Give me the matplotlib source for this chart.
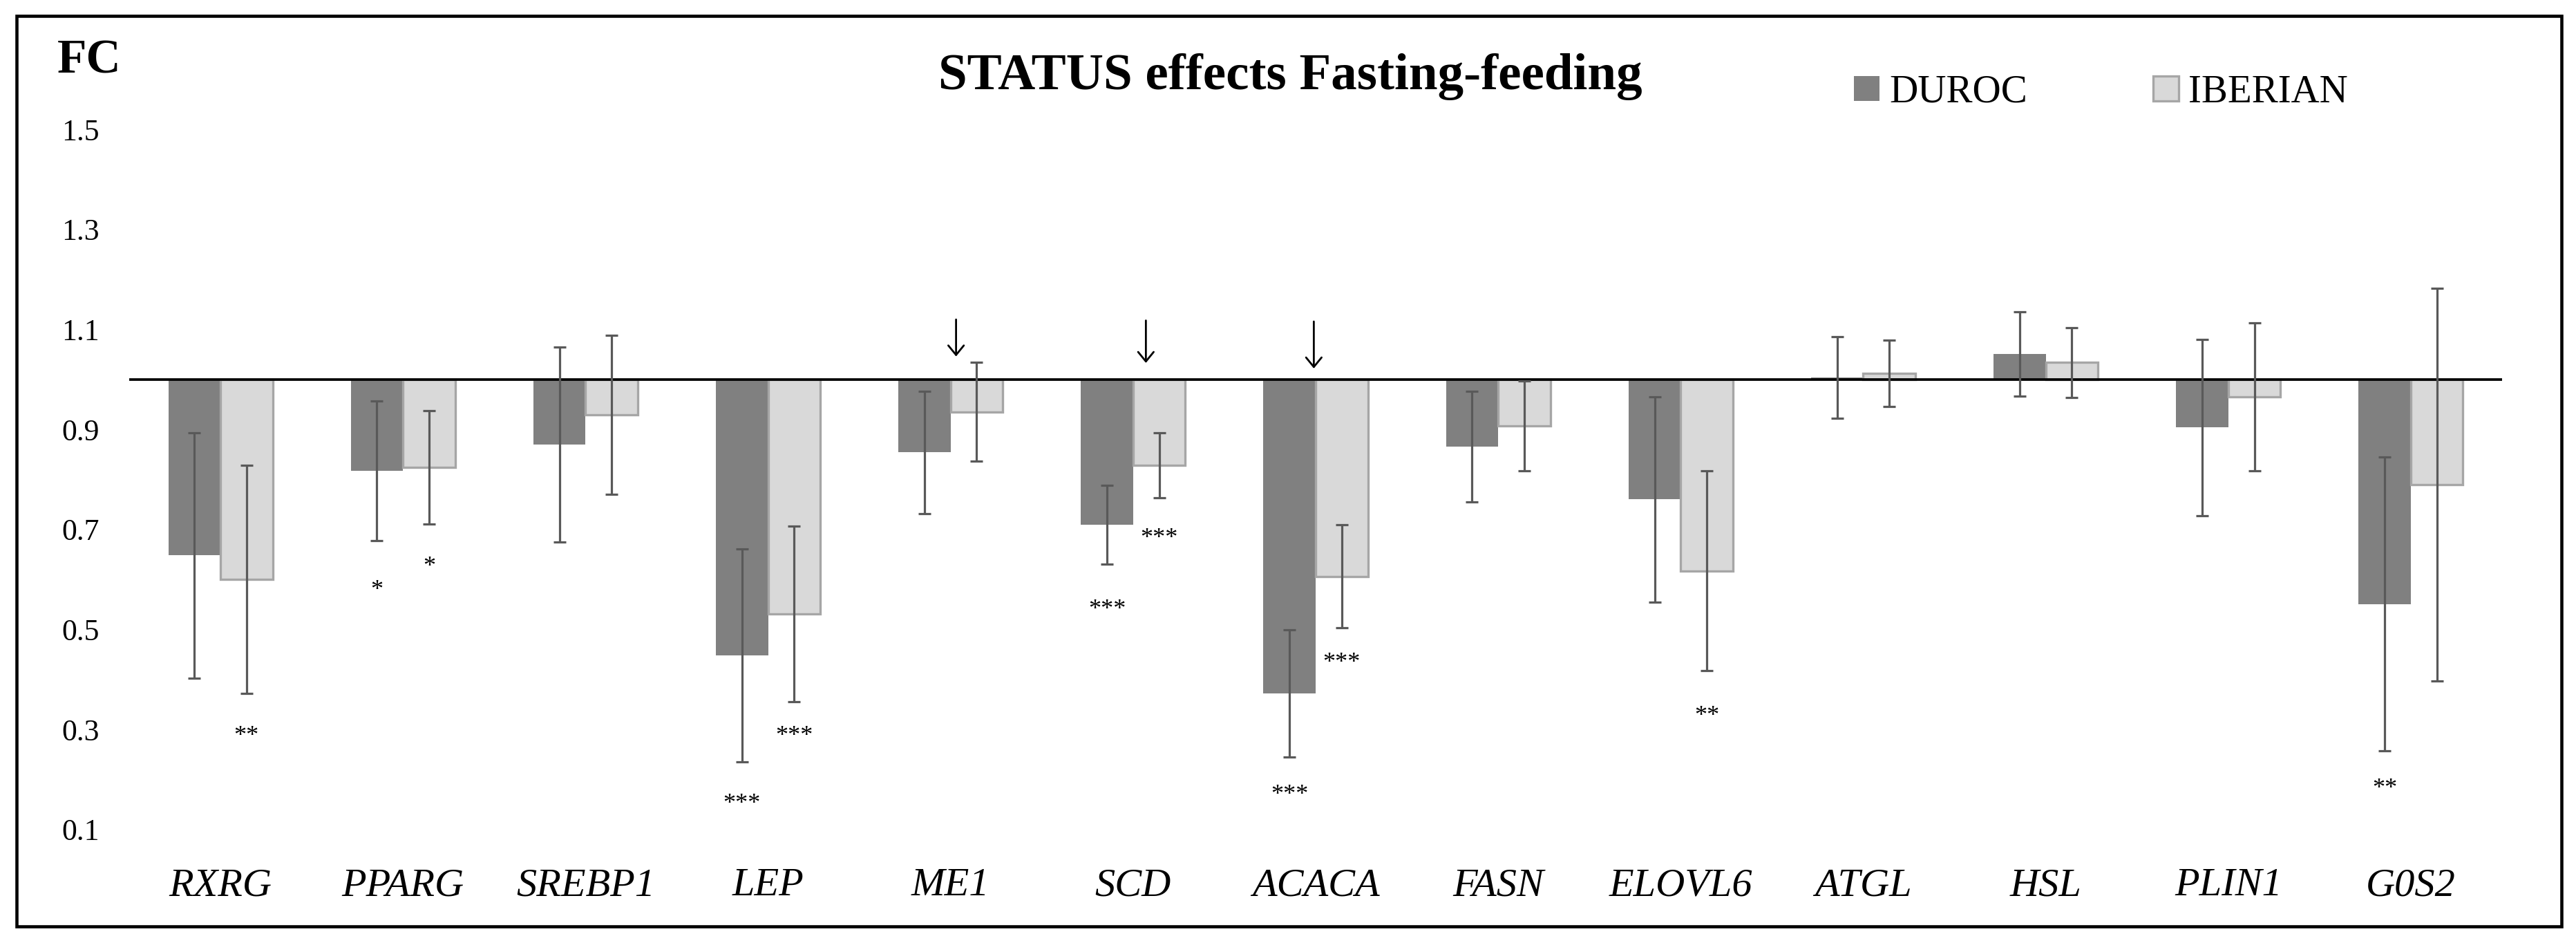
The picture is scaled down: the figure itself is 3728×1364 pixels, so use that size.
import numpy as np
import matplotlib
matplotlib.use('Agg')
import matplotlib.pyplot as plt
from matplotlib.patches import Rectangle

plt.rcParams['font.family'] = ['Liberation Serif', 'DejaVu Serif']

#Data
genes = ['RXRG', 'PPARG', 'SREBP1', 'LEP', 'ME1', 'SCD', 'ACACA',
         'FASN', 'ELOVL6', 'ATGL', 'HSL', 'PLIN1', 'G0S2']
duroc = [0.648, 0.817, 0.870, 0.448, 0.854, 0.709, 0.372,
         0.866, 0.760, 1.004, 1.051, 0.904, 0.551]
duroc_err = [0.246, 0.140, 0.195, 0.213, 0.123, 0.079, 0.127,
             0.111, 0.205, 0.081, 0.085, 0.176, 0.294]
iberian = [0.600, 0.824, 0.929, 0.531, 0.935, 0.828, 0.606,
           0.907, 0.617, 1.012, 1.034, 0.965, 0.790]
iberian_err = [0.228, 0.113, 0.159, 0.176, 0.099, 0.065, 0.103,
               0.090, 0.200, 0.066, 0.070, 0.148, 0.393]

#Significance marks (gene index, 0=DUROC 1=IBERIAN, FC level, text)
star_gene = [0, 1, 1, 3, 3, 5, 5, 6, 6, 8, 12]
star_series = [1, 0, 1, 0, 1, 0, 1, 0, 1, 1, 0]
star_y = [0.300, 0.593, 0.640, 0.165, 0.300, 0.553, 0.696, 0.183, 0.447, 0.341, 0.196]
star_text = ['**', '*', '*', '***', '***', '***', '***', '***', '***', '**', '**']

#Arrows above genes
arrow_x = [4.03, 5.07, 5.99]
arrow_top = [1.120, 1.118, 1.116]
arrow_tip = [1.046, 1.033, 1.022]

yticks = [0.1, 0.3, 0.5, 0.7, 0.9, 1.1, 1.3, 1.5]

#Plot
fig = plt.figure(figsize=(37.28, 13.64), dpi=100)
ax = fig.add_axes([0.05016, 0.12045, 0.92114, 0.79523])

x = np.arange(len(genes))
w = 0.286
d = np.array(duroc)
ib = np.array(iberian)

ax.bar(x - w/2, d - 1, bottom=1, width=w, color='#808080',
       edgecolor='none', label='DUROC', zorder=2)
ax.bar(x + w/2, ib - 1, bottom=1, width=w, color='#D9D9D9',
       edgecolor='#A6A6A6', linewidth=2.4, label='IBERIAN', zorder=2)

ax.errorbar(x - w/2, d, yerr=duroc_err, fmt='none', ecolor='#595959',
            elinewidth=2.3, capsize=6.4, capthick=2.3, zorder=4)
ax.errorbar(x + w/2, ib, yerr=iberian_err, fmt='none', ecolor='#595959',
            elinewidth=2.3, capsize=6.4, capthick=2.3, zorder=4)

ax.axhline(1.0, color='black', linewidth=2.7, zorder=3)

for g, s, yv, t in zip(star_gene, star_series, star_y, star_text):
    xs = g - w/2 if s == 0 else g + w/2
    ax.text(xs, yv - 0.015, t, ha='center', va='center', fontsize=26)

for xa, yt, yb in zip(arrow_x, arrow_top, arrow_tip):
    ax.annotate('', xy=(xa, yb), xytext=(xa, yt),
                arrowprops=dict(arrowstyle='->,head_length=0.33,head_width=0.27',
                                color='black', lw=2.0, mutation_scale=30,
                                shrinkA=0, shrinkB=0))

ax.set_xlim(-0.5, len(genes) - 0.5)
ax.set_ylim(0.1, 1.6)
ax.set_xticks(x)
ax.set_xticklabels(genes, fontstyle='italic', fontsize=42)
ax.set_yticks(yticks)
ax.set_yticklabels(['%.1f' % v for v in yticks], fontsize=31.5)
ax.tick_params(axis='x', length=0, pad=40)
ax.tick_params(axis='y', length=0, pad=31)
for sp in ax.spines.values():
    sp.set_visible(False)

fig.text(83/3728, 1 - 105/1364, 'FC', fontsize=50, fontweight='bold',
         ha='left', va='baseline')
fig.text(0.501, 1 - 129/1364, 'STATUS effects Fasting-feeding', fontsize=54,
         fontweight='bold', ha='center', va='baseline')

ax.legend(loc='center left', bbox_to_anchor=(2683/3728, 1 - 134/1364),
          bbox_transform=fig.transFigure, ncol=2, frameon=False, fontsize=41,
          handlelength=0.65, handleheight=0.6, handletextpad=0.25,
          columnspacing=3.2, borderpad=0, borderaxespad=0)

fig.add_artist(Rectangle((24/3728, 24/1364), (3707-24)/3728, (1341-24)/1364,
                         transform=fig.transFigure, fill=False,
                         edgecolor='black', linewidth=3.3))

fig.savefig('out.png', dpi=100, facecolor='white')
